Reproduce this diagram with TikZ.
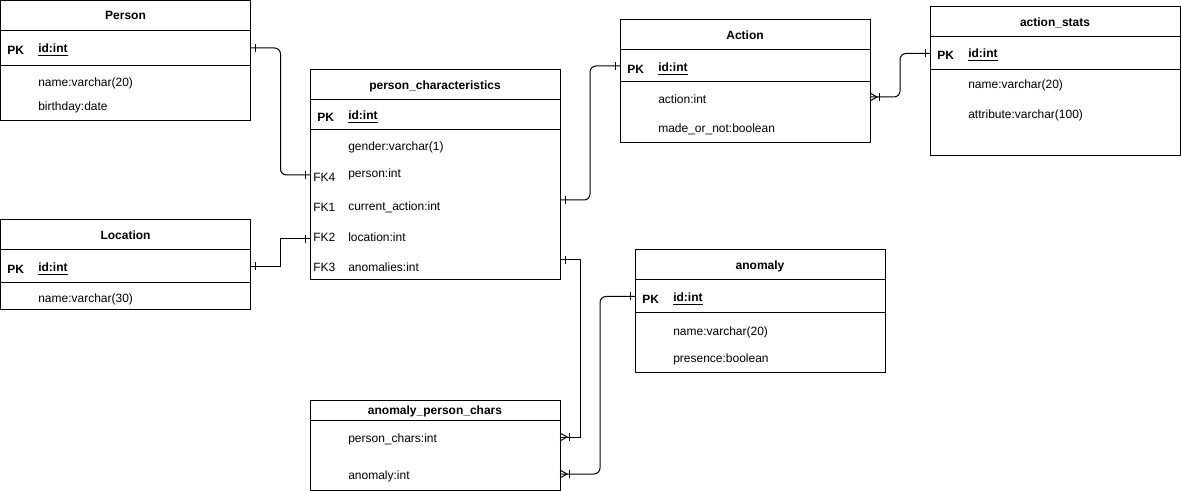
\documentclass[tikz,border=0pt]{standalone}
\usepackage{fontspec}
\setmainfont{Liberation Sans}
\usetikzlibrary{positioning}

\tikzset{
  tabhead/.style={draw, line width=0.75pt, outer sep=0pt, anchor=north west, minimum width=187.5pt, text depth=0pt, font=\fontsize{9}{11}\selectfont\bfseries},
  tabrow/.style={draw, line width=0.75pt, outer sep=0pt, minimum width=187.5pt},
  fld/.style={anchor=west, inner sep=0pt, yshift=-1.5pt},
  key/.style={fld, font=\fontsize{9}{11}\selectfont\bfseries},
  link/.style={draw, line width=0.75pt},
  onemark/.pic={\draw[line width=0.75pt] (5,-4) -- (5,4);},
  manymark/.pic={\draw[line width=0.75pt] (0,-4) -- (7,0) -- (0,4); \draw[line width=0.75pt] (9,-4) -- (9,4);}
}

\begin{document}
\begin{tikzpicture}[x=0.75pt,y=0.75pt,yscale=-1,xscale=1,font=\fontsize{9}{11}\selectfont]
\useasboundingbox (0,0) rectangle (1181,491);

%Table: Person
\node (person) [tabhead, minimum height=22.5pt] at (0.5,0.5) {Person};
\node (personpk) [tabrow, minimum height=26.25pt, below=0pt of person] {};
\node (personbody) [tabrow, minimum height=41.25pt, below=0pt of personpk] {};
% Text Node
\node (personpkk) [key] at (7,48) {PK};
\node (personid) [key] at (38,48) {\underline{id:int}};
\node (personname) [fld] at (38,81) {name:varchar(20)};
\node (personbday) [fld] at (38,105) {birthday:date};

%Table: Location
\node (loc) [tabhead, minimum height=22.5pt] at (0.5,220) {Location};
\node (locpk) [tabrow, minimum height=24.75pt, below=0pt of loc] {};
\node (locbody) [tabrow, minimum height=20.25pt, below=0pt of locpk] {};
% Text Node
\node (locpkk) [key] at (7,267) {PK};
\node (locid) [key] at (38,267) {\underline{id:int}};
\node (locname) [fld] at (38,297) {name:varchar(30)};

%Table: person_characteristics
\node (pc) [tabhead, minimum height=22.5pt] at (310,70) {person\_characteristics};
\node (pcpk) [tabrow, minimum height=22.5pt, below=0pt of pc] {};
\node (pcbody) [tabrow, minimum height=112.5pt, below=0pt of pcpk] {};
% Text Node
\node (pcpkk) [key] at (317,115) {PK};
\node (pcid) [key] at (348,115) {\underline{id:int}};
\node (pcgender) [fld] at (348,145) {gender:varchar(1)};
\node (pcfk4) [fld] at (313,175) {FK4};
\node (pcperson) [fld] at (348,172) {person:int};
\node (pcfk1) [fld] at (313,205) {FK1};
\node (pccur) [fld] at (348,205) {current\_action:int};
\node (pcfk2) [fld] at (313,235) {FK2};
\node (pcloc) [fld] at (348,235) {location:int};
\node (pcfk3) [fld] at (313,265) {FK3};
\node (pcanom) [fld] at (348,265) {anomalies:int};

%Table: Action
\node (act) [tabhead, minimum height=22.5pt] at (620,20) {Action};
\node (actpk) [tabrow, minimum height=24pt, below=0pt of act] {};
\node (actbody) [tabrow, minimum height=45.75pt, below=0pt of actpk] {};
% Text Node
\node (actpkk) [key] at (627,67) {PK};
\node (actid) [key] at (658,67) {\underline{id:int}};
\node (actaction) [fld] at (658,97) {action:int};
\node (actmade) [fld] at (658,127) {made\_or\_not:boolean};

%Table: action_stats
\node (stat) [tabhead, minimum height=22.5pt] at (930,7) {action\_stats};
\node (statpk) [tabrow, minimum height=24.75pt, below=0pt of stat] {};
\node (statbody) [tabrow, minimum height=64.5pt, below=0pt of statpk] {};
% Text Node
\node (statpkk) [key] at (937,53) {PK};
\node (statid) [key] at (968,53) {\underline{id:int}};
\node (statname) [fld] at (968,83) {name:varchar(20)};
\node (statattr) [fld] at (968,113) {attribute:varchar(100)};

%Table: anomaly
\node (anom) [tabhead, minimum height=22.5pt] at (635,250) {anomaly};
\node (anompk) [tabrow, minimum height=24.75pt, below=0pt of anom] {};
\node (anombody) [tabrow, minimum height=45pt, below=0pt of anompk] {};
% Text Node
\node (anompkk) [key] at (642,297) {PK};
\node (anomid) [key] at (673,297) {\underline{id:int}};
\node (anomname) [fld] at (673,330) {name:varchar(20)};
\node (anompres) [fld] at (673,357) {presence:boolean};

%Table: anomaly_person_chars
\node (apc) [tabhead, minimum height=15pt] at (310,400) {anomaly\_person\_chars};
\node (apcbody) [tabrow, minimum height=52.5pt, below=0pt of apc] {};
% Text Node
\node (apcpc) [fld] at (348,437) {person\_chars:int};
\node (apcanom) [fld] at (348,474) {anomaly:int};

%Relations
\draw [link, rounded corners=4.5pt] (personpk.east) -- ++(30,0) |- ([yshift=-1.5pt]pcbody.west |- pcfk4);
\pic at (personpk.east) {onemark};
\pic [xscale=-1] at ([yshift=-1.5pt]pcbody.west |- pcfk4) {onemark};

\draw [link] (locpk.east) -- ++(30,0) |- ([yshift=1.5pt]pcbody.west |- pcfk2);
\pic at (locpk.east) {onemark};
\pic [xscale=-1] at ([yshift=1.5pt]pcbody.west |- pcfk2) {onemark};

\draw [link, rounded corners=4.5pt] ([yshift=-5.25pt]pcbody.east |- pccur) -- ++(30,0) |- (actpk.west);
\pic at ([yshift=-5.25pt]pcbody.east |- pccur) {onemark};
\pic [xscale=-1] at (actpk.west) {onemark};

\draw [link, rounded corners=4.5pt] ([yshift=-1.5pt]actbody.east |- actaction) -- ++(30,0) |- (statpk.west);
\pic at ([yshift=-1.5pt]actbody.east |- actaction) {manymark};
\pic [xscale=-1] at (statpk.west) {onemark};

\draw [link] ([yshift=-5.25pt]pcbody.east |- pcanom) -- ++(20,0) |- ([yshift=-1.5pt]apcbody.east |- apcpc);
\pic at ([yshift=-5.25pt]pcbody.east |- pcanom) {onemark};
\pic at ([yshift=-1.5pt]apcbody.east |- apcpc) {manymark};

\draw [link, rounded corners=4.5pt] (anompk.west) -- ++(-35,0) |- ([yshift=-1.5pt]apcbody.east |- apcanom);
\pic [xscale=-1] at (anompk.west) {onemark};
\pic at ([yshift=-1.5pt]apcbody.east |- apcanom) {manymark};

\end{tikzpicture}
\end{document}
